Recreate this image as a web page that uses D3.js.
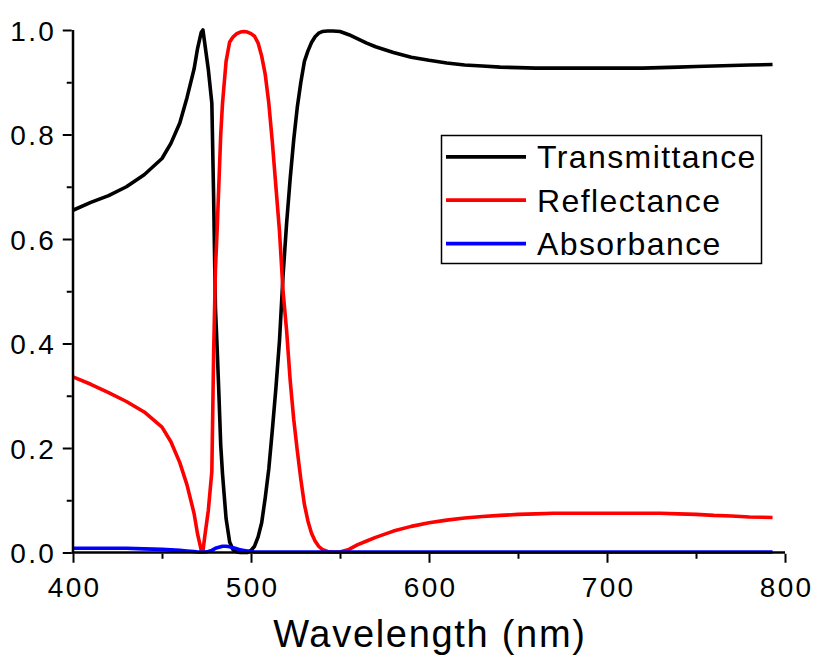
<!DOCTYPE html>
<html>
<head>
<meta charset="utf-8">
<script src="https://cdn.jsdelivr.net/npm/d3@7"></script>
<style>
  html, body { margin: 0; padding: 0; background: #fff; }
  svg { display: block; font-family: "Liberation Sans", Arial, sans-serif; }
</style>
</head>
<body>
<svg id="chart" width="817" height="666"></svg>
<script>
// ---- data ----
const wavelengths = [400,410,420,430,440,450,455,460,464,468,470,472,473,474,476,478,479,480,481,482,483,484,486,488,490,492,494,496,498,500,502,504,506,508,510,512,514,516,518,520,522,524,526,528,530,532,534,536,538,540,543,546,550,555,560,565,570,580,590,600,610,620,630,640,650,660,670,680,690,700,710,720,730,740,750,760,770,780,793];

const transmittance = [0.655,0.670,0.683,0.700,0.723,0.754,0.783,0.822,0.870,0.925,0.965,0.995,1.000,0.975,0.925,0.860,0.680,0.470,0.390,0.300,0.205,0.150,0.065,0.020,0.005,0.001,0.000,0.000,0.000,0.004,0.012,0.030,0.057,0.105,0.160,0.235,0.315,0.405,0.530,0.630,0.715,0.790,0.852,0.900,0.940,0.960,0.976,0.987,0.994,0.997,0.998,0.998,0.997,0.991,0.983,0.975,0.968,0.957,0.948,0.942,0.937,0.933,0.931,0.929,0.928,0.927,0.927,0.927,0.927,0.927,0.927,0.927,0.928,0.929,0.930,0.931,0.932,0.933,0.934];

const reflectance = [0.336,0.322,0.306,0.289,0.269,0.240,0.212,0.172,0.130,0.075,0.035,0.005,0.003,0.030,0.080,0.155,0.380,0.540,0.620,0.710,0.800,0.860,0.940,0.977,0.987,0.993,0.996,0.997,0.996,0.993,0.988,0.975,0.950,0.915,0.860,0.785,0.700,0.615,0.500,0.425,0.330,0.255,0.195,0.140,0.092,0.060,0.037,0.022,0.012,0.006,0.002,0.001,0.001,0.006,0.015,0.022,0.029,0.041,0.050,0.057,0.062,0.066,0.069,0.071,0.073,0.074,0.075,0.075,0.075,0.075,0.075,0.075,0.075,0.074,0.073,0.071,0.070,0.068,0.067];

const absorbance = [0.008,0.008,0.008,0.008,0.007,0.006,0.005,0.004,0.003,0.002,0.001,0.001,0.001,0.001,0.002,0.004,0.006,0.008,0.009,0.010,0.011,0.012,0.012,0.011,0.009,0.007,0.005,0.004,0.003,0.002,0.001,0.001,0.001,0.001,0.001,0.001,0.001,0.001,0.001,0.001,0.001,0.001,0.001,0.001,0.001,0.001,0.001,0.001,0.001,0.001,0.001,0.001,0.001,0.001,0.001,0.001,0.001,0.001,0.001,0.001,0.001,0.001,0.001,0.001,0.001,0.001,0.001,0.001,0.001,0.001,0.001,0.001,0.001,0.001,0.001,0.001,0.001,0.001,0.001];

const seriesNames = ["Transmittance", "Reflectance", "Absorbance"];
const seriesColors = ["#000000", "#ff0000", "#0000ff"];
const xMajorTicks = [400, 500, 600, 700, 800];
const xMinorTicks = [450, 550, 650, 750];
const yMajorTicks = [0.0, 0.2, 0.4, 0.6, 0.8, 1.0];
const yMinorTicks = [0.1, 0.3, 0.5, 0.7, 0.9];
const xTitle = "Wavelength (nm)";

// ---- drawing ----
const svg = d3.select("#chart");
const x = d3.scaleLinear().domain([400, 800]).range([73, 785]);
const y = d3.scaleLinear().domain([0, 1]).range([552.5, 30]);

const seriesValues = [transmittance, reflectance, absorbance];

// data lines
const line = d3.line().x(d => x(d[0])).y(d => y(d[1])).curve(d3.curveLinear);
seriesValues.forEach((vals, i) => {
  const pts = wavelengths.map((w, j) => [w, vals[j]]);
  svg.append("path")
    .attr("d", line(pts))
    .attr("fill", "none")
    .attr("stroke", seriesColors[i])
    .attr("stroke-width", 3.6)
    .attr("stroke-linejoin", "round")
    .attr("stroke-linecap", "butt");
});

// axes
const axisW = 2.5;
const gx = svg.append("g").attr("transform", `translate(0,${y(0)})`);
gx.call(d3.axisBottom(x).tickValues(xMajorTicks).tickSize(9).tickSizeOuter(0).tickFormat(d3.format("d")));
const gxMinor = svg.append("g").attr("transform", `translate(0,${y(0)})`);
gxMinor.call(d3.axisBottom(x).tickValues(xMinorTicks).tickSize(5).tickSizeOuter(0).tickFormat(""));
gxMinor.select(".domain").remove();

const gy = svg.append("g").attr("transform", `translate(${x(400)},0)`);
gy.call(d3.axisLeft(y).tickValues(yMajorTicks).tickSize(9).tickSizeOuter(0).tickFormat(d3.format(".1f")));
const gyMinor = svg.append("g").attr("transform", `translate(${x(400)},0)`);
gyMinor.call(d3.axisLeft(y).tickValues(yMinorTicks).tickSize(5).tickSizeOuter(0).tickFormat(""));
gyMinor.select(".domain").remove();

[gx, gy, gxMinor, gyMinor].forEach(g => {
  g.select(".domain").attr("stroke", "#000").attr("stroke-width", axisW);
  g.selectAll(".tick line").attr("stroke", "#000").attr("stroke-width", 2);
});
gx.select(".domain").attr("d", `M${x(400) - axisW/2},0H${x(800)}`);
gy.select(".domain").attr("d", `M0,${y(0) + axisW/2}V${y(1)}`);
gx.selectAll(".tick line").attr("y1", axisW/2).attr("y2", axisW/2 + 9);
gy.selectAll(".tick line").attr("x1", -axisW/2).attr("x2", -axisW/2 - 9);
gxMinor.selectAll(".tick line").attr("y1", axisW/2).attr("y2", axisW/2 + 5);
gyMinor.selectAll(".tick line").attr("x1", -axisW/2).attr("x2", -axisW/2 - 5);

const tickFont = 28, tickLS = 2.3;
gx.selectAll(".tick text")
  .attr("y", 44).attr("dy", 0).attr("dx", tickLS / 2)
  .attr("font-size", tickFont).attr("letter-spacing", tickLS)
  .attr("fill", "#000").attr("font-family", "Liberation Sans, Arial, sans-serif");
gy.selectAll(".tick text")
  .attr("x", -19.2 + tickLS).attr("dy", "0.36em")
  .attr("font-size", tickFont).attr("letter-spacing", tickLS)
  .attr("fill", "#000").attr("font-family", "Liberation Sans, Arial, sans-serif");

// axis title
svg.append("text")
  .attr("x", (x(400) + x(800)) / 2 + 0.9)
  .attr("y", 647)
  .attr("text-anchor", "middle")
  .attr("font-size", 38)
  .attr("letter-spacing", 1.7)
  .attr("fill", "#000")
  .text(xTitle);

// legend
const legend = svg.append("g");
legend.append("rect")
  .attr("x", 441.5).attr("y", 135.5).attr("width", 320).attr("height", 128)
  .attr("fill", "#fff").attr("stroke", "#000").attr("stroke-width", 1.5);
seriesNames.forEach((name, i) => {
  const base = 168.3 + i * 43.4;
  legend.append("line")
    .attr("x1", 446).attr("x2", 526)
    .attr("y1", base - 11.5).attr("y2", base - 11.5)
    .attr("stroke", seriesColors[i]).attr("stroke-width", 3.8);
  legend.append("text")
    .attr("x", 537).attr("y", base)
    .attr("font-size", 32).attr("letter-spacing", 1.4)
    .attr("fill", "#000")
    .text(name);
});
</script>
</body>
</html>
